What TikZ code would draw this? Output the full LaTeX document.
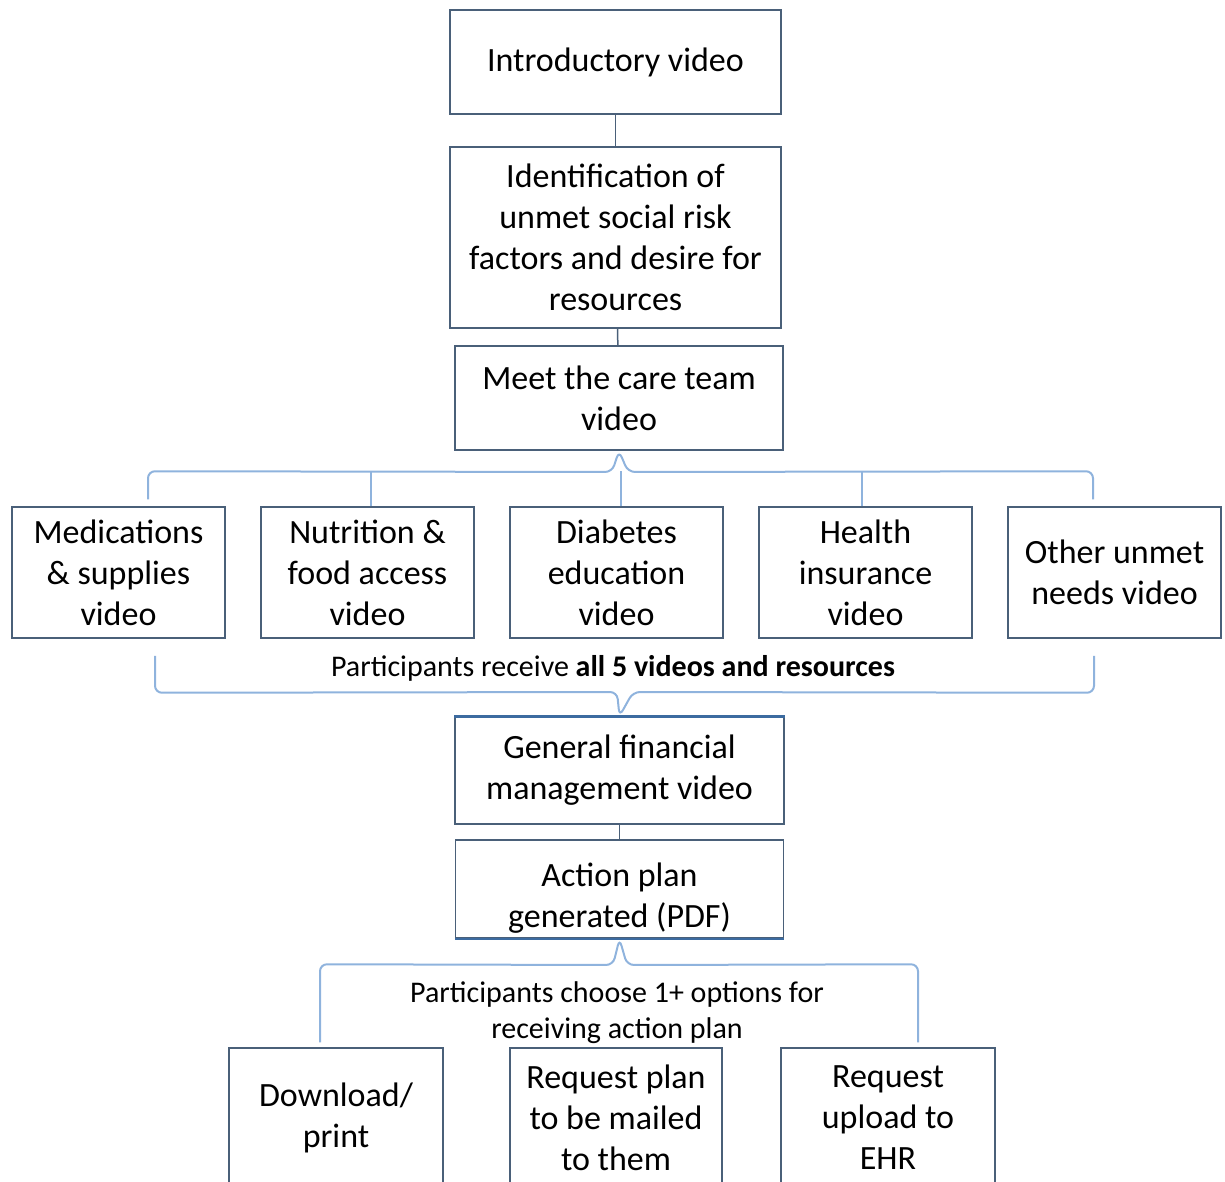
\documentclass[tikz,border=0pt]{standalone}
\usepackage{fontspec}
\setmainfont{Carlito}
\usepackage{xcolor}
\definecolor{boxline}{RGB}{74,96,121}
\definecolor{bracecol}{RGB}{143,179,221}
\definecolor{edgeblue}{RGB}{60,107,160}
\tikzstyle{videobox} = [rectangle, 
minimum width=331pt, 
minimum height=104pt,
text centered, 
align=center,
inner sep=0pt,
draw=boxline, 
line width=1.5pt,
font=\fontsize{34}{41}\selectfont]
\tikzstyle{topicbox} = [videobox, 
minimum width=213pt, 
minimum height=131pt]
\tikzstyle{optionbox} = [videobox, 
minimum width=214pt, 
minimum height=140pt]
\tikzstyle{note} = [align=center, font=\fontsize{30}{36}\selectfont]
\tikzstyle{link} = [draw=boxline, line width=1.5pt]
\tikzstyle{brace} = [draw=bracecol, line width=2pt, rounded corners=7pt]

\begin{document}
\begin{tikzpicture}[x=1pt, y=1pt]
	\useasboundingbox (0,0) rectangle (1225,-1182);
	
	\node (intro) [videobox] at (615.5,-62) {Introductory video};
	\node (ident) [videobox, minimum height=181pt, below of=intro, node distance=175.5pt] {Identification of\\ unmet social risk\\ factors and desire for\\ resources};
	\node (meet) [videobox, minimum width=328pt, below of=ident, node distance=160.5pt, xshift=3.5pt] {Meet the care team\\ video};
	
	\node (med) [topicbox] at (118.5,-572.5) {Medications\\ \& supplies\\ video};
	\node (nutr) [topicbox, right of=med, node distance=249pt] {Nutrition \&\\ food access\\ video};
	\node (diab) [topicbox, right of=nutr, node distance=249pt] {Diabetes\\ education\\ video};
	\node (health) [topicbox, right of=diab, node distance=249pt] {Health\\ insurance\\ video};
	\node (other) [topicbox, right of=health, node distance=249pt] {Other unmet\\ needs video};
	
	\node (allfive) [note] at (613,-668) {Participants receive \textbf{all 5 videos and resources}};
	
	\node (general) [videobox, minimum width=329pt, minimum height=107pt] at (619.5,-770.5) {General financial\\ management video};
	\node (action) [videobox, minimum width=328pt, minimum height=98pt, below of=general, node distance=118.5pt] {\rule{0pt}{42pt}\\[-41pt]Action plan\\ generated (PDF)};
	
	\node (choose) [note] at (617,-1013) {Participants choose 1+ options for\\ receiving action plan};
	
	\node (download) [optionbox] at (336,-1118) {Download/\\ print};
	\node (mailed) [optionbox, minimum width=212pt] at (616,-1118) {Request plan\\ to be mailed\\ to them};
	\node (ehr) [optionbox] at (888,-1118) {Request\\ upload to\\ EHR};
	
	% heavier edges
	\draw [edgeblue, line width=3pt] (general.north west) -- (general.north east);
	\draw [edgeblue, line width=2.5pt] (action.south west) -- (action.south east);
	
	\draw [link] (intro) -- (ident);
	\draw [link] (ident) -- (meet);
	\draw [link] (general) -- (action);
	
	% brace under meet the care team
	\draw [brace] ([xshift=29.5pt,yshift=7pt]med.north) -- ++(0,28) -- (612,-472) -- (meet.south) -- (628,-472) -- ([xshift=-21.5pt,yshift=35pt]other.north) -- ([xshift=-21.5pt,yshift=7pt]other.north);
	\draw [brace] ([xshift=3.5pt]nutr.north) -- ++(0,35);
	\draw [brace] ([xshift=4pt]diab.north) -- ++(0,35);
	\draw [brace] ([xshift=-4pt]health.north) -- ++(0,35);
	
	% brace over general financial
	\draw [brace] ([xshift=36.5pt,yshift=-17pt]med.south) -- ++(0,-37) -- (617,-692) -- (general.north) -- (633,-692) -- ([xshift=-20.5pt,yshift=-54pt]other.south) -- ([xshift=-20.5pt,yshift=-17pt]other.south);
	
	% brace to the three options
	\draw [brace] ([xshift=-16pt,yshift=5pt]download.north) -- ++(0,78) -- (613,-965) -- (action.south) -- (627,-965) -- ([xshift=30pt,yshift=83pt]ehr.north) -- ([xshift=30pt,yshift=5pt]ehr.north);
	
\end{tikzpicture}
\end{document}
